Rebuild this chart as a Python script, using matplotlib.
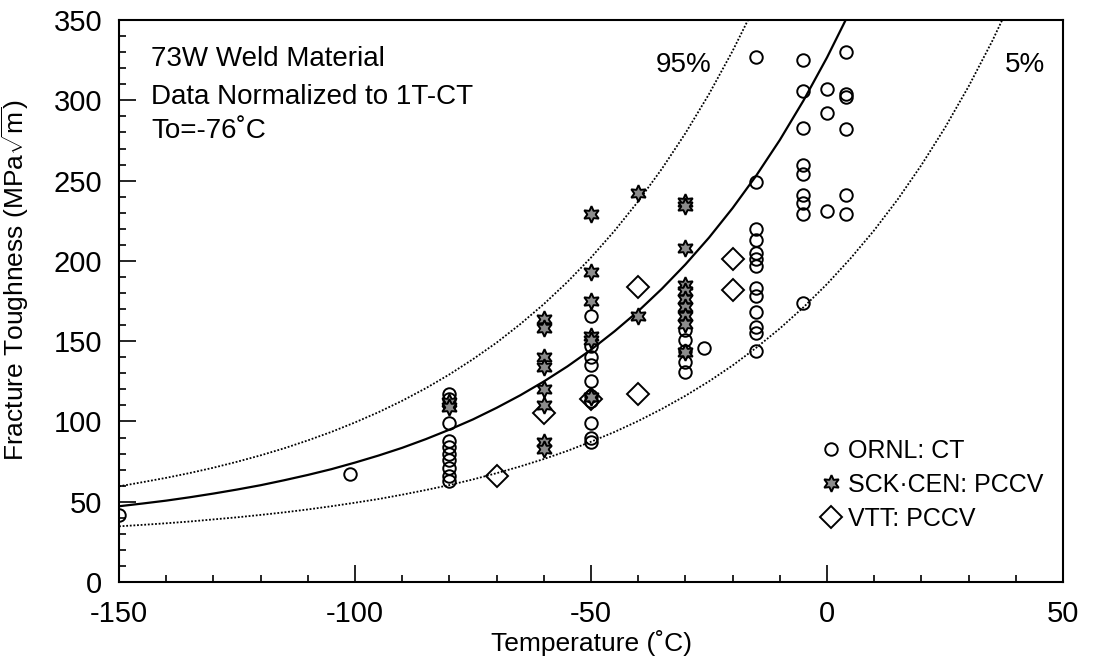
import matplotlib
matplotlib.use("Agg")
import matplotlib.pyplot as plt
from matplotlib.ticker import MultipleLocator

plt.rcParams['font.family'] = ['Liberation Sans', 'DejaVu Sans']
plt.rcParams['mathtext.fontset'] = 'custom'
plt.rcParams['mathtext.rm'] = 'Liberation Sans'
plt.rcParams['axes.unicode_minus'] = False

# ORNL: CT specimens (temperature, toughness)
ornl_T = ([-150, -101] + [-80] * 11 + [-50] * 10 + [-30] * 5 + [-26]
          + [-15] * 13 + [-5] * 9 + [0] * 3 + [4] * 6)
ornl_K = ([42, 67]
          + [117, 114, 110, 99, 88, 84, 80, 76, 71, 66, 63]
          + [166, 147, 140, 135, 125, 116, 113, 99, 90, 87]
          + [157, 151, 144, 137, 131]
          + [146]
          + [327, 249, 220, 213, 205, 201, 197, 183, 178, 168, 159, 155, 144]
          + [325, 306, 283, 260, 254, 241, 236, 229, 174]
          + [307, 292, 231]
          + [330, 304, 302, 282, 241, 229])

# SCK-CEN: PCCV specimens
sck_T = [-80] * 2 + [-60] * 8 + [-50] * 6 + [-40] * 2 + [-30] * 10
sck_K = ([112, 109]
         + [164, 158, 140, 134, 120, 110, 87, 83]
         + [229, 193, 175, 153, 151, 115]
         + [242, 166]
         + [237, 234, 208, 185, 181, 176, 171, 166, 161, 143])

# VTT: PCCV specimens
vtt_T = [-70, -60, -50, -40, -40, -20, -20]
vtt_K = [66, 105, 114, 184, 117, 201, 182]

# master curve and tolerance bounds, read every 5 C
curve_T = list(range(-150, 45, 5))
median_K = [47.2, 48.9, 50.7, 52.8, 55.1, 57.6, 60.3, 63.4, 66.7, 70.3,
            74.4, 78.8, 83.6, 89.0, 94.9, 101.3, 108.5, 116.3, 124.9, 134.3,
            144.7, 156.2, 168.7, 182.6, 197.8, 214.5, 232.9, 253.1, 275.3,
            299.8, 326.7, 356.2]
upper_K = [59.6, 62.2, 64.9, 67.9, 71.2, 74.9, 78.9, 83.3, 88.2, 93.5,
           99.4, 105.8, 112.9, 120.7, 129.3, 138.8, 149.1, 160.6, 173.1,
           186.9, 202.1, 218.8, 237.1, 257.3, 279.5, 303.9, 330.8, 360.3]
lower_K = [34.7, 35.6, 36.6, 37.7, 39.0, 40.3, 41.8, 43.4, 45.2, 47.2,
           49.4, 51.7, 54.4, 57.3, 60.4, 63.9, 67.8, 72.0, 76.6, 81.7,
           87.4, 93.5, 100.3, 107.8, 116.0, 125.0, 134.9, 145.9, 157.9,
           171.1, 185.6, 201.6, 219.1, 238.4, 259.7, 283.0, 308.7, 336.9, 368.0]

fig = plt.figure(figsize=(10.96, 6.69), dpi=100)
ax = fig.add_axes([0.1086, 0.130, 0.8613, 0.840])

dots = (0, (1, 1))
ax.plot(curve_T[:len(median_K)], median_K, color='black', lw=1.6, zorder=2)
ax.plot(curve_T[:len(upper_K)], upper_K, color='black', lw=1.3, ls=dots, zorder=2)
ax.plot(curve_T[:len(lower_K)], lower_K, color='black', lw=1.3, ls=dots, zorder=2)

ax.plot(ornl_T, ornl_K, ls='none', marker='o', ms=9, mfc='none', mec='black',
        mew=1.4, label='ORNL: CT', zorder=3)
ax.plot(sck_T, sck_K, ls='none', marker=(6, 1, 0), ms=12, mfc='#8c8c8c',
        mec='black', mew=1.4, label='SCK·CEN: PCCV', zorder=4)
ax.plot(vtt_T, vtt_K, ls='none', marker='D', ms=11, mfc='none', mec='black',
        mew=1.4, label='VTT: PCCV', zorder=3)

ax.set_xlim(-150, 50)
ax.set_ylim(0, 350)
ax.xaxis.set_major_locator(MultipleLocator(50))
ax.xaxis.set_minor_locator(MultipleLocator(10))
ax.yaxis.set_major_locator(MultipleLocator(50))
ax.yaxis.set_minor_locator(MultipleLocator(10))
ax.tick_params(which='both', direction='in', top=False, right=False,
               labelsize=21, width=1.2)
ax.tick_params(which='major', length=12)
ax.tick_params(which='minor', length=5)
ax.tick_params(axis='x', which='major', pad=13)
ax.tick_params(axis='y', which='major', pad=12)
for sp in ax.spines.values():
    sp.set_linewidth(1.5)

ax.set_xlabel('Temperature (˚C)', fontsize=19)
ax.set_ylabel(r'Fracture Toughness (MPa$\sqrt{\rm m}$)', fontsize=19)
ax.xaxis.set_label_coords(0.5, -0.085)
ax.yaxis.set_label_coords(-0.093, 0.537)

ax.text(-143.2, 326, '73W Weld Material', fontsize=20, va='center')
ax.text(-143.2, 302, 'Data Normalized to 1T-CT', fontsize=20, va='center')
ax.text(-143.2, 281, 'To=-76˚C', fontsize=20, va='center')
ax.text(-36.3, 322, '95%', fontsize=20, va='center')
ax.text(37.7, 322, '5%', fontsize=20, va='center')

ax.legend(loc='lower right', frameon=False, fontsize=18, handletextpad=0.15,
          handlelength=1.0, borderaxespad=0.4, labelspacing=0.4,
          bbox_to_anchor=(1.0, 0.055))

fig.savefig('out.png', dpi=100)
